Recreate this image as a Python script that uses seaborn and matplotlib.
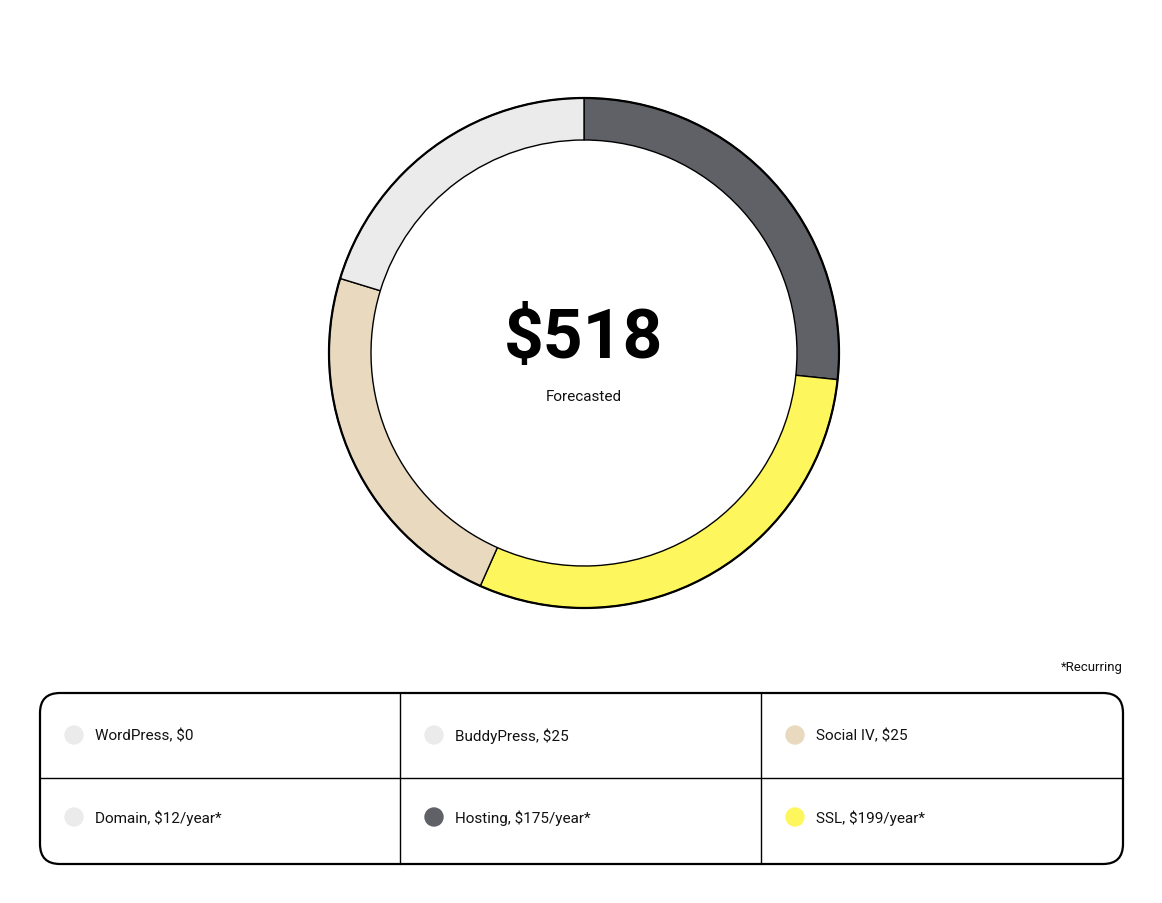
import matplotlib
matplotlib.use("Agg")
import matplotlib.pyplot as plt
import seaborn as sns
from matplotlib.patches import FancyBboxPatch, Circle

sns.set_theme(style="white")
plt.rcParams['font.family'] = ['Roboto', 'DejaVu Sans']

# ring segments (clockwise from top)
seg_labels = ["Hosting", "SSL", "Social IV", "Other"]
seg_sizes = [96, 108, 83, 73]
seg_colors = ["#5f6166", "#fdf65c", "#e8d9bf", "#ebebeb"]

total_text = "$518"
legend_labels = ["WordPress, $0", "BuddyPress, $25", "Social IV, $25",
                 "Domain, $12/year*", "Hosting, $175/year*", "SSL, $199/year*"]
legend_colors = ["#ebebeb", "#ebebeb", "#e8d9bf", "#ebebeb", "#5f6166", "#fdf65c"]

fig = plt.figure(figsize=(11.62, 9.04), dpi=100)
ax = fig.add_axes([0, 0, 1, 1])
ax.set_xlim(0, 1162)
ax.set_ylim(904, 0)
ax.set_aspect("equal")
ax.axis("off")

ax.pie(seg_sizes, colors=seg_colors, center=(584, 354), radius=255,
       startangle=-90, counterclock=True, frame=True,
       wedgeprops=dict(width=42, edgecolor="black", linewidth=1.0))
ax.add_patch(Circle((584, 354), 255, fill=False, edgecolor="black", lw=1.6, zorder=5))
ax.set_xlim(0, 1162)
ax.set_ylim(904, 0)
ax.axis("off")

ax.text(584, 340, total_text, ha="center", va="center", fontsize=50, fontweight="bold", color="black")
ax.text(584, 397, "Forecasted", ha="center", va="center", fontsize=11, color="#111111")

ax.text(1123, 668, "*Recurring", ha="right", va="center", fontsize=9.5, color="#111111")

box = FancyBboxPatch((40, 694), 1083, 171, boxstyle="round,pad=0,rounding_size=20",
                     fill=False, edgecolor="black", lw=1.6)
ax.add_patch(box)
ax.plot([40, 1123], [779, 779], color="black", lw=1.0)
for x in (400, 761):
    ax.plot([x, x], [694, 865], color="black", lw=1.0)

col_x = [74, 434, 795]
row_y = [736, 818]
for i, (lab, col) in enumerate(zip(legend_labels, legend_colors)):
    r, c = divmod(i, 3)
    ax.add_patch(Circle((col_x[c], row_y[r]), 9, color=col, zorder=4))
    ax.text(col_x[c] + 21, row_y[r], lab, ha="left", va="center", fontsize=11, color="#111111")

fig.savefig("out.png", dpi=100, facecolor="white")
